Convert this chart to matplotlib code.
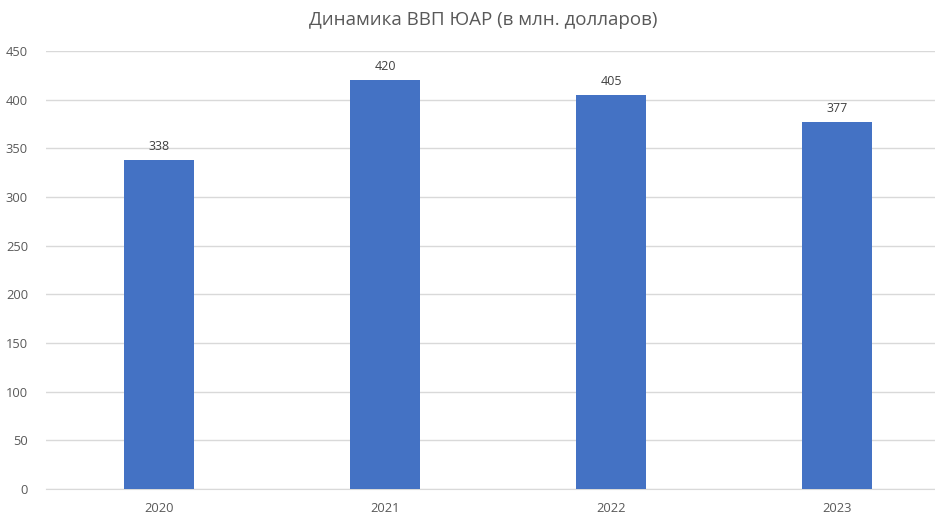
import matplotlib
matplotlib.use("Agg")
import matplotlib.pyplot as plt

years = ["2020", "2021", "2022", "2023"]
gdp = [338, 420, 405, 377]
yticks = [0, 50, 100, 150, 200, 250, 300, 350, 400, 450]

plt.rcParams['font.family'] = ['Open Sans', 'DejaVu Sans']
text_color = "#595959"

fig = plt.figure(figsize=(9.35, 5.13), dpi=100)
ax = fig.add_axes([46/935, 1 - 489/513, (950 - 46)/935, (489 - 51)/513])

x = list(range(len(years)))
bars = ax.bar(x, gdp, width=0.31, color="#4472C4", zorder=3)
for xi, v in zip(x, gdp):
    ax.annotate(str(v), (xi, v), xytext=(0, 5), textcoords="offset points",
                ha="center", va="bottom", fontsize=9, color="#404040")

ax.set_xlim(-0.5, len(years) - 0.5)
ax.set_ylim(0, 450)
ax.set_yticks(yticks)
ax.set_xticks(x)
ax.set_xticklabels(years)
ax.yaxis.grid(True, color="#D9D9D9", linewidth=1, zorder=0)
ax.set_axisbelow(True)
for s in ["top", "right", "left"]:
    ax.spines[s].set_visible(False)
ax.spines["bottom"].set_color("#D9D9D9")
ax.tick_params(axis="both", length=0, labelsize=9.3, colors=text_color)
ax.tick_params(axis="x", pad=9)
ax.tick_params(axis="y", pad=13)

fig.text(483/935, 1 - 20/513, "Динамика ВВП ЮАР (в млн. долларов)", ha="center", va="center",
         fontsize=13.5, color=text_color)

fig.savefig("out.png", dpi=100)
